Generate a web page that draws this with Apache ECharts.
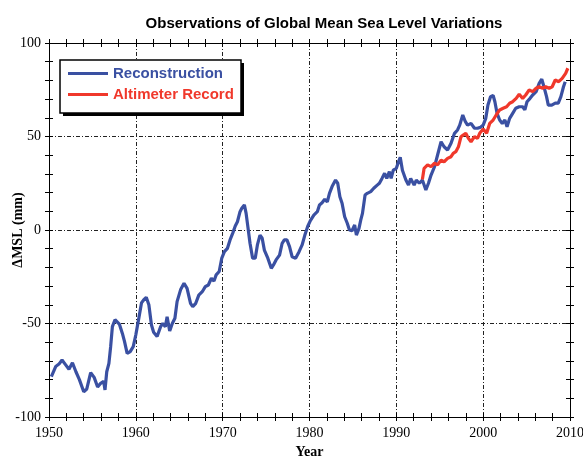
<!DOCTYPE html>
<html>
<head>
<meta charset="utf-8">
<script src="https://cdn.jsdelivr.net/npm/echarts@6/dist/echarts.min.js"></script>
<style>
  html, body { margin: 0; padding: 0; background: #fff; }
  #chart { width: 583px; height: 457px; }
</style>
</head>
<body>
<div id="chart"></div>
<script>
// Reconstructed global mean sea level (mm), decimal years
const reconYears = [
  1950.27, 1950.77, 1951.15, 1951.5, 1951.9, 1952.3, 1952.7, 1953.1, 1953.5, 1954.0,
  1954.35, 1954.8, 1955.2, 1955.6, 1955.95, 1956.3, 1956.45, 1956.65, 1956.9, 1957.1,
  1957.3, 1957.6, 1958.1, 1958.45, 1958.7, 1959.0, 1959.35, 1959.7, 1960.0, 1960.35,
  1960.65, 1960.9, 1961.2, 1961.5, 1961.8, 1962.05, 1962.45, 1962.85, 1963.1, 1963.4,
  1963.6, 1963.9, 1964.2, 1964.5, 1964.75, 1965.15, 1965.55, 1965.9, 1966.3, 1966.55,
  1966.9, 1967.25, 1967.65, 1968.0, 1968.35, 1968.7, 1969.0, 1969.25, 1969.6, 1969.9,
  1970.2, 1970.55, 1970.85, 1971.15, 1971.45, 1971.7, 1972.0, 1972.2, 1972.5, 1972.7,
  1972.9, 1973.15, 1973.45, 1973.75, 1974.0, 1974.3, 1974.55, 1974.8, 1975.2, 1975.6,
  1975.85, 1976.15, 1976.55, 1976.85, 1977.1, 1977.4, 1977.7, 1978.0, 1978.4, 1978.8,
  1979.15, 1979.45, 1979.8, 1980.1, 1980.5, 1980.9, 1981.15, 1981.45, 1981.75, 1982.05,
  1982.3, 1982.6, 1983.0, 1983.25, 1983.5, 1983.75, 1984.05, 1984.35, 1984.6, 1984.9,
  1985.2, 1985.4, 1985.7, 1985.9, 1986.1, 1986.4, 1986.65, 1987.05, 1987.4, 1987.8,
  1988.05, 1988.35, 1988.65, 1988.9, 1989.2, 1989.4, 1989.65, 1990.0, 1990.25, 1990.45,
  1990.7, 1991.1, 1991.4, 1991.65, 1992.05, 1992.3, 1992.65, 1993.0, 1993.4, 1993.7,
  1994.0, 1994.4, 1994.75, 1995.15, 1995.5, 1995.9, 1996.3, 1996.7, 1997.05, 1997.3,
  1997.65, 1997.95, 1998.2, 1998.6, 1999.0, 1999.35, 1999.7, 2000.0, 2000.3, 2000.55,
  2000.85, 2001.15, 2001.35, 2001.6, 2001.9, 2002.2, 2002.5, 2002.75, 2003.05, 2003.4,
  2003.75, 2004.15, 2004.55, 2004.8, 2005.05, 2005.4, 2005.7, 2006.1, 2006.45, 2006.75,
  2007.0, 2007.3, 2007.5, 2007.9, 2008.3, 2008.65, 2008.95, 2009.25, 2009.45
];
const reconValues = [
  -78.4, -73, -71.7, -69.5, -72, -74.5, -71, -75.8, -80, -86.5,
  -85, -76.3, -78.8, -84, -82, -81, -85.5, -75.8, -71.3, -62.4,
  -51.7, -48, -50.3, -55.3, -59.7, -66, -65, -62.4, -56, -47,
  -39, -37.4, -36, -40, -50.8, -54.7, -57, -51.7, -50, -51.7,
  -46.4, -54, -50, -47.2, -38.3, -32, -28.5, -31.2, -39.2, -41,
  -39.2, -34.8, -33, -30.3, -29.4, -25.8, -27.3, -24, -22.2, -15,
  -11.6, -9.8, -5.3, -1.8, 2.1, 4.4, 9.8, 11.6, 13.4, 8.9,
  1.8, -7.1, -15.1, -15.1, -8, -2.7, -4.4, -10.7, -15.1, -20.5,
  -18.7, -16, -13.4, -7.1, -5.3, -5.3, -8.9, -14.3, -15.1, -11.6,
  -8, -3, 2, 5, 8, 9.8, 13.4, 14.6, 16.4, 15.1,
  19.6, 23.2, 26.7, 25, 17.8, 14.3, 7.1, 3.6, 0, -0.4,
  2.7, -2.7, 0.9, 5.3, 8.9, 18.7, 19.6, 20.5, 22.3, 24,
  25, 27.6, 30.3, 27.6, 31.2, 27.6, 32, 33, 36.5, 38.9,
  32, 26.7, 24, 27.6, 24, 26.7, 25, 26.7, 21.4, 25,
  29.4, 33.9, 40.1, 47.2, 44.5, 42.8, 46.4, 51.7, 53.5, 56.1,
  61.5, 57.9, 56.1, 57, 54.4, 54.4, 55, 56.1, 59.7, 66.8,
  71.3, 71.9, 68.6, 62.4, 58.8, 57, 58.8, 55.2, 59.7, 62.4,
  65.1, 65.9, 65.9, 64.2, 68.6, 70.4, 72.2, 74, 78.4, 80.7,
  76.6, 71.3, 66.8, 66.8, 67.8, 67.8, 71.3, 76.6, 79.3
];

// Satellite altimeter record (mm), decimal years
const altimYears = [
  1993.0, 1993.2, 1993.6, 1994.0, 1994.4, 1994.75, 1995.15, 1995.5, 1995.9, 1996.3,
  1996.55, 1996.85, 1997.15, 1997.45, 1997.7, 1998.0, 1998.3, 1998.6, 1999.0, 1999.35,
  1999.6, 2000.0, 2000.4, 2000.75, 2001.15, 2001.5, 2001.9, 2002.3, 2002.7, 2003.05,
  2003.4, 2003.8, 2004.15, 2004.55, 2004.9, 2005.3, 2005.7, 2006.1, 2006.45, 2006.85,
  2007.2, 2007.6, 2007.95, 2008.3, 2008.7, 2009.1, 2009.5, 2009.75
];
const altimValues = [
  27, 33, 34.8, 33.9, 35.7, 34.8, 37.4, 36.5, 38.3, 39.2,
  41, 41.9, 44.5, 49.9, 50.8, 51.7, 49, 47.2, 49.9, 49,
  51.7, 54, 51.7, 57, 58.8, 61.5, 64.2, 65.1, 65.9, 67.8,
  68.6, 70.4, 72.6, 70.4, 72.2, 74.9, 74, 75.8, 76.6, 75.8,
  76.6, 75.8, 76.6, 80.2, 79.3, 81.1, 83.8, 86.5
];

const xTickYears = [1950, 1960, 1970, 1980, 1990, 2000, 2010];
const yTickValues = [-100, -50, 0, 50, 100];

const seriesNames = ['Reconstruction', 'Altimeter Record'];
const BLUE = '#3a50a2';
const RED = '#f0382b';

const serif = '"Liberation Serif", "Times New Roman", serif';
const sans = '"Liberation Sans", Arial, sans-serif';

const pairs = (xs, ys) => xs.map((x, i) => [x, ys[i]]);

const gridDash = { type: [4, 2, 1, 2], color: '#222', width: 1 };

function xAxisDef(position, inside, main) {
  return {
    type: 'value', position: position,
    min: xTickYears[0], max: xTickYears[xTickYears.length - 1], interval: 10,
    axisLine: { show: true, onZero: false, lineStyle: { color: '#000', width: 1 } },
    axisTick: { show: true, inside: inside, length: 4, lineStyle: { color: '#000' } },
    minorTick: { show: true, splitNumber: 5, length: 4, lineStyle: { color: '#000' } },
    axisLabel: main ? {
      show: true, fontFamily: serif, fontSize: 14, color: '#000', margin: 9,
      formatter: v => String(v)
    } : { show: false },
    splitLine: main ? { show: true, lineStyle: gridDash } : { show: false },
    name: main ? 'Year' : '',
    nameLocation: 'middle', nameGap: 25,
    nameTextStyle: { fontFamily: serif, fontWeight: 'bold', fontSize: 14, color: '#000' }
  };
}

function yAxisDef(position, inside, main) {
  return {
    type: 'value', position: position,
    min: yTickValues[0], max: yTickValues[yTickValues.length - 1], interval: 50,
    axisLine: { show: true, onZero: false, lineStyle: { color: '#000', width: 1 } },
    axisTick: { show: true, inside: inside, length: 4, lineStyle: { color: '#000' } },
    minorTick: { show: true, splitNumber: 5, length: 4, lineStyle: { color: '#000' } },
    axisLabel: main ? {
      show: true, fontFamily: serif, fontSize: 14, color: '#000', margin: 8,
      formatter: v => String(v)
    } : { show: false },
    splitLine: main ? { show: true, lineStyle: gridDash } : { show: false },
    name: main ? 'ΔMSL (mm)' : '',
    nameLocation: 'middle', nameGap: 24, nameRotate: 90, nameMoveOverlap: false,
    nameTextStyle: { fontFamily: serif, fontWeight: 'bold', fontSize: 14, color: '#000' }
  };
}

// Legend frame with a drop shadow, drawn behind the legend items
const legendBox = { x: 60, y: 60, w: 181, h: 53 };

const chart = echarts.init(document.getElementById('chart'), null, { renderer: 'canvas' });
chart.setOption({
  animation: false,
  backgroundColor: '#fff',
  title: {
    text: 'Observations of Global Mean Sea Level Variations',
    left: 319, top: 11, textAlign: 'center',
    textStyle: { fontFamily: sans, fontWeight: 'bold', fontSize: 15, color: '#000' }
  },
  grid: { left: 49, right: 13, top: 43, bottom: 40, outerBoundsMode: 'none', containLabel: false },
  xAxis: [
    xAxisDef('bottom', true, true),
    xAxisDef('bottom', false, false),
    xAxisDef('top', true, false),
    xAxisDef('top', false, false)
  ],
  yAxis: [
    yAxisDef('left', true, true),
    yAxisDef('left', false, false),
    yAxisDef('right', true, false),
    yAxisDef('right', false, false)
  ],
  graphic: [
    {
      type: 'rect', z: 10,
      shape: { x: legendBox.x + 3, y: legendBox.y + 3, width: legendBox.w, height: legendBox.h },
      style: { fill: '#000' }
    },
    {
      type: 'rect', z: 11,
      shape: { x: legendBox.x, y: legendBox.y, width: legendBox.w, height: legendBox.h },
      style: { fill: '#fff', stroke: '#000', lineWidth: 1.5 }
    }
  ],
  legend: {
    orient: 'vertical', left: 60, top: 61, z: 20,
    padding: [5, 10, 5, 8], itemGap: 6,
    itemWidth: 40, itemHeight: 3, icon: 'rect',
    textStyle: { fontFamily: sans, fontWeight: 'bold', fontSize: 15 },
    data: [
      { name: seriesNames[0], textStyle: { color: BLUE } },
      { name: seriesNames[1], textStyle: { color: RED } }
    ]
  },
  series: [
    {
      name: seriesNames[0], type: 'line', xAxisIndex: 0, yAxisIndex: 0,
      data: pairs(reconYears, reconValues),
      showSymbol: false, color: BLUE,
      lineStyle: { color: BLUE, width: 3.2 }, z: 3
    },
    {
      name: seriesNames[1], type: 'line', xAxisIndex: 0, yAxisIndex: 0,
      data: pairs(altimYears, altimValues),
      showSymbol: false, color: RED,
      lineStyle: { color: RED, width: 3.2 }, z: 4
    }
  ]
});
</script>
</body>
</html>
